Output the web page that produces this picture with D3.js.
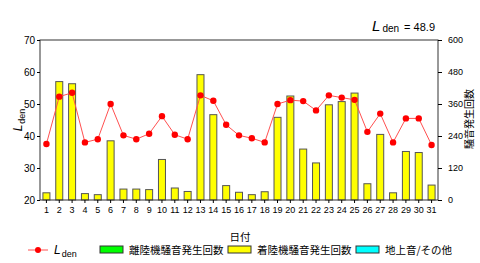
<!DOCTYPE html>
<html>
<head>
<meta charset="utf-8">
<script src="https://cdn.jsdelivr.net/npm/d3@7"></script>
<style>
  body { margin: 0; background: #fff; }
  svg { display: block; }
  text { font-family: "Liberation Sans", Arial, sans-serif; fill: #000; }
  .jp { font-family: "Noto Sans CJK JP", sans-serif; }
</style>
</head>
<body>
<div id="chart"></div>
<script>
// data //
let days = d3.range(1, 32);
let lden = [37.5, 52.3, 53.5, 38.0, 39.0, 50.0, 40.2, 39.0, 40.7, 46.2,
            40.4, 39.0, 52.7, 51.0, 43.5, 40.2, 39.3, 38.0, 50.0, 51.2,
            50.9, 48.0, 52.7, 52.0, 51.3, 41.3, 47.0, 38.0, 45.5, 45.5, 37.2];
let arrivals = [27, 444, 436, 24, 20, 222, 41, 41, 39, 152,
                45, 32, 470, 320, 54, 29, 20, 31, 310, 390,
                191, 139, 357, 369, 401, 61, 246, 27, 182, 178, 56];
let leftTicks = [20, 30, 40, 50, 60, 70];
let rightTicks = [0, 120, 240, 360, 480, 600];
let legendItems = [
  {label: "離陸機騒音発生回数", color: "#00ff00"},
  {label: "着陸機騒音発生回数", color: "#ffff00"},
  {label: "地上音/その他", color: "#00ffff"}
];
let ldenTotal = "48.9";

let W = 480, H = 263;
let margin = {top: 40, left: 40, right: 42, bottom: 63};
let width = W - margin.left - margin.right,
    height = H - margin.top - margin.bottom;

let svg = d3.select("#chart").append("svg")
    .attr("width", W)
    .attr("height", H);

let g = svg.append("g")
    .attr("transform", "translate(" + margin.left + "," + margin.top + ")");

let xScale = d3.scaleBand().domain(days).range([0, width]);
let yLeft = d3.scaleLinear().domain([20, 70]).range([height, 0]);
let yRight = d3.scaleLinear().domain([0, 600]).range([height, 0]);
let cx = function(d) { return xScale(d) + xScale.bandwidth() / 2; };

// bars
let barW = 7;
g.selectAll(".bar")
    .data(arrivals)
    .enter().append("rect")
    .attr("class", "bar")
    .attr("x", function(d, i) { return cx(days[i]) - barW / 2; })
    .attr("y", function(d) { return yRight(d); })
    .attr("width", barW)
    .attr("height", function(d) { return height - yRight(d); })
    .style("fill", "#ffff00")
    .style("stroke", "#555")
    .style("stroke-width", 1);

// frame
g.append("rect")
    .attr("width", width)
    .attr("height", height)
    .style("fill", "none")
    .style("stroke", "#333")
    .style("stroke-width", 1);

// axes
let xAxis = d3.axisBottom(xScale).tickSize(3).tickPadding(4);
g.append("g")
    .attr("transform", "translate(0," + height + ")")
    .call(xAxis)
    .call(function(s) { s.select(".domain").remove(); })
    .selectAll("text").style("font-size", "9px");

let lAxis = d3.axisLeft(yLeft).tickValues(leftTicks).tickSize(3).tickPadding(2);
g.append("g")
    .call(lAxis)
    .call(function(s) { s.select(".domain").remove(); })
    .selectAll("text").style("font-size", "10px");

let rAxis = d3.axisRight(yRight).tickValues(rightTicks).tickSize(4).tickPadding(6);
g.append("g")
    .attr("transform", "translate(" + width + ",0)")
    .call(rAxis)
    .call(function(s) { s.select(".domain").remove(); })
    .selectAll("text").style("font-size", "9px");

// Lden line
let line = d3.line()
    .x(function(d, i) { return cx(days[i]); })
    .y(function(d) { return yLeft(d); });

g.append("path")
    .datum(lden)
    .attr("d", line)
    .style("fill", "none")
    .style("stroke", "#ff5050")
    .style("stroke-width", 1);

g.selectAll(".pt")
    .data(lden)
    .enter().append("circle")
    .attr("class", "pt")
    .attr("cx", function(d, i) { return cx(days[i]); })
    .attr("cy", function(d) { return yLeft(d); })
    .attr("r", 3.2)
    .style("fill", "#ff0000");

// axis titles
let ly = svg.append("text")
    .attr("transform", "translate(22," + (margin.top + height / 2) + ") rotate(-90)")
    .style("text-anchor", "middle")
    .style("font-size", "11px");
ly.append("tspan").style("font-style", "italic").style("font-size", "12px").text("L");
ly.append("tspan").attr("dy", 3).attr("dx", 1).style("font-size", "9px").text("den");

svg.append("text")
    .attr("class", "jp")
    .attr("transform", "translate(473," + (margin.top + height / 2 - 1) + ") rotate(-90)")
    .style("text-anchor", "middle")
    .style("font-size", "10px")
    .text("騒音発生回数");

svg.append("text")
    .attr("class", "jp")
    .attr("x", 240)
    .attr("y", 241)
    .style("text-anchor", "middle")
    .style("font-size", "10.5px")
    .text("日付");

// title
let t = svg.append("text")
    .attr("x", 435)
    .attr("y", 31)
    .style("text-anchor", "end")
    .style("font-size", "11px");
t.append("tspan").style("font-style", "italic").style("font-size", "15px").text("L");
t.append("tspan").attr("dx", 2).attr("dy", 1).style("font-size", "10px").text("den");
t.append("tspan").attr("dx", 5).attr("dy", -1).text("= " + ldenTotal);

// legend
let legY = 250;
svg.append("line")
    .attr("x1", 28).attr("x2", 48)
    .attr("y1", legY).attr("y2", legY)
    .style("stroke", "#ff5050");
svg.append("circle")
    .attr("cx", 38).attr("cy", legY).attr("r", 3)
    .style("fill", "#ff0000");
let lt = svg.append("text")
    .attr("x", 54)
    .attr("y", legY + 4)
    .style("font-size", "11px");
lt.append("tspan").style("font-style", "italic").style("font-size", "12px").text("L");
lt.append("tspan").attr("dx", 1).attr("dy", 3).style("font-size", "9px").text("den");

let legX = [100, 228, 356];
let leg = svg.selectAll(".legend")
    .data(legendItems)
    .enter().append("g")
    .attr("class", "legend")
    .attr("transform", function(d, i) { return "translate(" + legX[i] + "," + (legY - 4) + ")"; });

leg.append("rect")
    .attr("width", 23)
    .attr("height", 7)
    .style("fill", function(d) { return d.color; })
    .style("stroke", "#333");

leg.append("text")
    .attr("class", "jp")
    .attr("x", 29)
    .attr("y", 8)
    .style("font-size", "10.5px")
    .text(function(d) { return d.label; });
</script>
</body>
</html>
